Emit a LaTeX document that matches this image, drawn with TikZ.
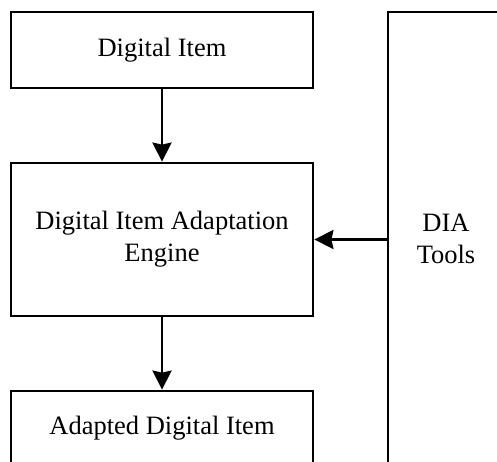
\documentclass[tikz,border=0pt]{standalone}
\usepackage{fontspec}
\setmainfont{Liberation Serif}
\usetikzlibrary{arrows.meta}
\begin{document}
\begin{tikzpicture}[x=1pt,y=-1pt,
  box/.style={draw, line width=2.8pt, minimum width=302pt, inner sep=0pt, align=center,
    font=\fontsize{26.5}{32}\selectfont},
  arr/.style={line width=2.8pt, -{Stealth[length=19pt,width=19pt,inset=2pt]}},
  lbl/.style={align=center, inner sep=0pt, font=\fontsize{26.5}{32}\selectfont}]
\useasboundingbox (0,0) rectangle (497,461);
\clip (0,0) rectangle (497,461);
\node[box, minimum height=76pt] (item) at (162,50) {Digital Item};
\node[box, minimum height=153pt] (engine) at (162,239.5) {Digital Item Adaptation\\Engine};
\node[box, minimum height=74pt] (adapted) at (162,428) {Adapted Digital Item};
\node[draw, line width=2.8pt, minimum width=200pt, minimum height=600pt, inner sep=0pt] (tools) at (488,312) {};
\node[lbl] (toolslabel) at (446,239) {DIA\\Tools};
\draw[arr] (item) -- (engine);
\draw[arr] (engine) -- (adapted);
\draw[arr] (tools.west |- engine.east) -- (engine.east);
\end{tikzpicture}
\end{document}
